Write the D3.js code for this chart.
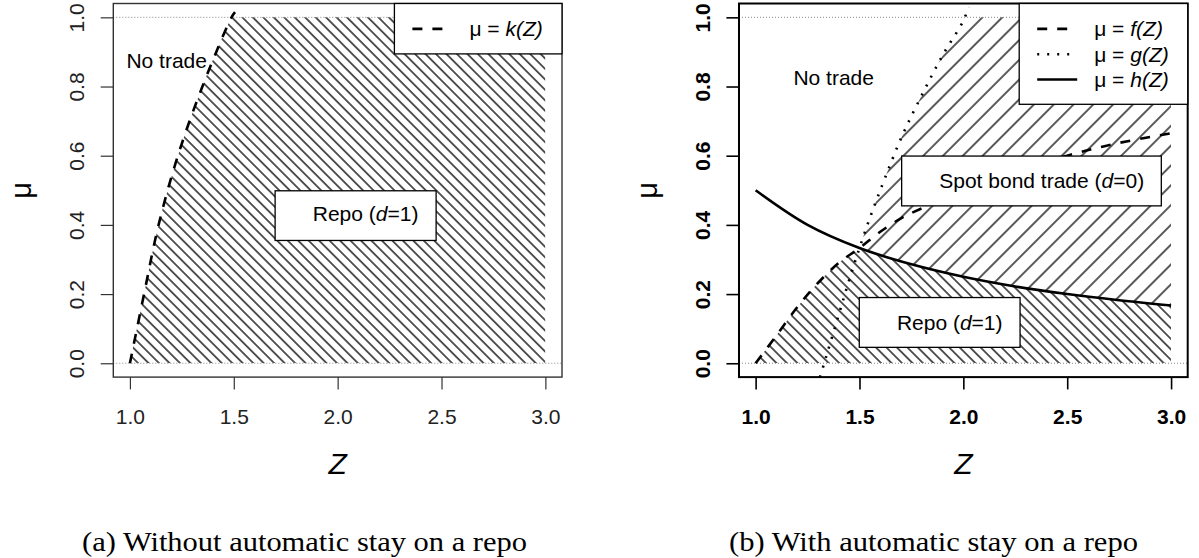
<!DOCTYPE html>
<html><head><meta charset="utf-8">
<script src="https://cdn.jsdelivr.net/npm/d3@7"></script>
<style>body{margin:0;background:#fff} svg{display:block}</style>
</head><body><svg id="c" width="1199" height="558"></svg>
<script>
// ---- data ----
const xTicks = [1.0, 1.5, 2.0, 2.5, 3.0];
const yTicks = [0.0, 0.2, 0.4, 0.6, 0.8, 1.0];
// panel (a): mu = k(Z)
const kZ  = [1.0, 1.068, 1.138, 1.231, 1.349, 1.489, 1.506];
const kMu = [0.0, 0.2,   0.4,   0.6,   0.8,   1.0,   1.015];
// panel (b): mu = f(Z)
const fZ  = [1.0, 1.1,  1.2,   1.3,   1.4,  1.5,   1.6,  1.7,   1.8,   2.0,  2.2,  2.5,  2.75,  3.0];
const fMu = [0.0, 0.08, 0.162, 0.232, 0.29, 0.333, 0.38, 0.419, 0.448, 0.50, 0.54, 0.60, 0.637, 0.665];
// mu = g(Z)
const gZ  = [1.31, 1.33, 1.40, 1.45, 1.50,  1.55, 1.60, 1.70, 1.80,  1.90, 2.00, 2.025];
const gMu = [-0.04, 0.0, 0.14, 0.24, 0.333, 0.42, 0.50, 0.65, 0.775, 0.89, 0.99, 1.03];
// mu = h(Z)
const hZ  = [1.0, 1.25, 1.5,   1.75,  2.0,  2.25,  2.5, 2.75,  3.0];
const hMu = [0.5, 0.4,  0.333, 0.286, 0.25, 0.222, 0.2, 0.182, 0.167];
const captions = ["(a) Without automatic stay on a repo", "(b) With automatic stay on a repo"];

const SANS = "'Liberation Sans', Arial, Helvetica, sans-serif";
const svg = d3.select("#c");
const defs = svg.append("defs");

function hatch(id, spacing, angle) {
  const p = defs.append("pattern").attr("id", id).attr("patternUnits", "userSpaceOnUse")
    .attr("width", spacing).attr("height", spacing)
    .attr("patternTransform", `rotate(${angle})`);
  p.append("line").attr("x1", spacing / 2).attr("x2", spacing / 2).attr("y1", -1).attr("y2", spacing + 1)
    .attr("stroke", "#000").attr("stroke-width", 1.3);
}
hatch("hBack", 7.4, -45);
hatch("hFwd", 14, 45);

const zip = (a, b) => a.map((v, i) => [v, b[i]]);
const kPts = zip(kZ, kMu), fPts = zip(fZ, fMu), gPts = zip(gZ, gMu), hPts = zip(hZ, hMu);

function makePanel(o) {
  const x = d3.scaleLinear().domain([0.92, 3.08]).range([o.x0, o.x1]);
  const y = d3.scaleLinear().domain([-0.04, 1.04]).range([377.1, 3.5]);
  const g = svg.append("g");
  const cid = o.id + "clip";
  defs.append("clipPath").attr("id", cid).append("rect")
    .attr("x", o.x0).attr("y", y(1.04)).attr("width", o.x1 - o.x0).attr("height", y(-0.04) - y(1.04));
  const hid = o.id + "hclip";
  defs.append("clipPath").attr("id", hid).append("rect")
    .attr("x", x(xTicks[0])).attr("y", y(1)).attr("width", x(xTicks[xTicks.length - 1]) - x(xTicks[0]))
    .attr("height", y(0) - y(1));
  const plot = g.append("g").attr("clip-path", `url(#${cid})`);
  const hatchG = plot.append("g").attr("clip-path", `url(#${hid})`);
  const line = d3.line().x(d => x(d[0])).y(d => y(d[1])).curve(d3.curveCatmullRom.alpha(0.5));

  // dotted reference lines at 0 and 1
  [0, 1].forEach(v => plot.append("line").attr("x1", o.x0).attr("x2", o.x1).attr("y1", y(v)).attr("y2", y(v))
    .attr("stroke", "#888").attr("stroke-width", 1).attr("stroke-dasharray", "1,2"));

  // axes
  const ax = g.append("g").attr("transform", `translate(0,${y(-0.04)})`)
    .call(d3.axisBottom(x).tickValues(xTicks).tickFormat(d3.format(".1f")).tickSize(12.3).tickSizeOuter(0));
  ax.select(".domain").remove();
  ax.selectAll("line").attr("stroke", o.axisColor).attr("stroke-width", o.tickW);
  ax.selectAll("text").attr("y", 31.5).attr("dy", "0.71em").attr("font-size", 21)
    .attr("font-family", SANS).attr("font-weight", o.bold ? "bold" : "normal").attr("fill", o.textColor);

  const ay = g.append("g").attr("transform", `translate(${o.x0},0)`)
    .call(d3.axisLeft(y).tickValues(yTicks).tickFormat(d3.format(".1f")).tickSize(12.6).tickSizeOuter(0));
  ay.select(".domain").remove();
  ay.selectAll("line").attr("stroke", o.axisColor).attr("stroke-width", o.tickW);
  ay.selectAll("text").attr("transform", "rotate(-90)").attr("x", 0).attr("y", -36.6).attr("dy", "0.36em")
    .attr("text-anchor", "middle").attr("font-size", 21).attr("font-family", SANS)
    .attr("font-weight", o.bold ? "bold" : "normal").attr("fill", o.textColor);

  // box
  g.append("rect").attr("x", o.x0).attr("y", y(1.04)).attr("width", o.x1 - o.x0).attr("height", y(-0.04) - y(1.04))
    .attr("fill", "none").attr("stroke", o.axisColor).attr("stroke-width", o.boxW);

  // axis titles
  g.append("text").attr("x", (x(1) + x(3)) / 2).attr("y", 474).attr("text-anchor", "middle")
    .attr("font-family", SANS).attr("font-size", 30).attr("font-style", "italic").text("Z");
  g.append("text").attr("transform", `translate(${o.x0 - 82},${(y(0) + y(1)) / 2}) rotate(-90)`)
    .attr("text-anchor", "middle").attr("font-family", SANS).attr("font-size", 29).text("μ");

  return { x, y, g, plot, hatchG, line };
}

function labelBox(P, z0, z1, m0, m1, tz, tm, parts) {
  P.g.append("rect").attr("x", P.x(z0)).attr("y", P.y(m1)).attr("width", P.x(z1) - P.x(z0))
    .attr("height", P.y(m0) - P.y(m1)).attr("fill", "#fff").attr("stroke", "#000").attr("stroke-width", 1.3);
  plainText(P, tz, tm, parts);
}
function plainText(P, tz, tm, parts) {
  const t = P.g.append("text").attr("x", P.x(tz)).attr("y", P.y(tm)).attr("dy", "0.34em")
    .attr("font-family", SANS).attr("font-size", 21).attr("fill", "#000");
  parts.forEach(p => t.append("tspan").attr("font-style", p[1] ? "italic" : "normal").text(p[0]));
}
function legend(P, x0, x1, y0, rows) {
  const h = 25.2 * (rows.length + 1);
  P.g.append("rect").attr("x", x0).attr("y", y0).attr("width", x1 - x0).attr("height", h)
    .attr("fill", "#fff").attr("stroke", "#000").attr("stroke-width", 1.3);
  rows.forEach((r, i) => {
    const cy = y0 + 25.4 + i * 25.3;
    P.g.append("line").attr("x1", x0 + 18).attr("x2", x0 + 58).attr("y1", cy).attr("y2", cy)
      .attr("stroke", "#000").attr("stroke-width", 2.6).attr("stroke-dasharray", r.dash);
    const t = P.g.append("text").attr("x", x0 + 75).attr("y", cy).attr("dy", "0.36em")
      .attr("font-family", SANS).attr("font-size", 21);
    t.append("tspan").text("μ = ");
    t.append("tspan").attr("font-style", "italic").text(r.name);
  });
}

// ---------- panel (a) ----------
const A = makePanel({ id: "a", x0: 113.3, x1: 562, axisColor: "#333", textColor: "#222", tickW: 1.2, boxW: 1.4, bold: false });
{
  const d = A.line(kPts) + `L${A.x(3)},${A.y(kMu[kMu.length - 1])}L${A.x(3)},${A.y(0)}Z`;
  A.hatchG.append("path").attr("d", d).attr("fill", "url(#hBack)");
  A.plot.append("path").attr("d", A.line(kPts)).attr("fill", "none").attr("stroke", "#000")
    .attr("stroke-width", 2.6).attr("stroke-dasharray", "10,10");
  plainText(A, 0.983, 0.873, [["No trade", false]]);
  labelBox(A, 1.699, 2.474, 0.355, 0.4986, 1.88, 0.431, [["Repo (", false], ["d", true], ["=1)", false]]);
  legend(A, 394.4, 562, 3.5, [{ name: "k(Z)", dash: "10,10" }]);
}

// ---------- panel (b) ----------
const B = makePanel({ id: "b", x0: 739, x1: 1187.7, axisColor: "#000", textColor: "#000", tickW: 1.6, boxW: 2, bold: true });
{
  const fLow = fPts.filter(p => p[0] <= 1.5);
  const hHigh = hPts.filter(p => p[0] >= 1.5);
  const gHigh = gPts.filter(p => p[0] >= 1.5);
  const repo = B.line(fLow) + B.line(hHigh).replace(/^M/, "L") + `L${B.x(3)},${B.y(0)}L${B.x(1)},${B.y(0)}Z`;
  B.hatchG.append("path").attr("d", repo).attr("fill", "url(#hBack)");
  const spot = B.line(gHigh) + `L${B.x(3)},${B.y(gMu[gMu.length - 1])}` +
    B.line(hHigh.slice().reverse()).replace(/^M/, "L") + "Z";
  B.hatchG.append("path").attr("d", spot).attr("fill", "url(#hFwd)");

  B.plot.append("path").attr("d", B.line(gPts)).attr("fill", "none").attr("stroke", "#000")
    .attr("stroke-width", 2.6).attr("stroke-dasharray", "2,8");
  B.plot.append("path").attr("d", B.line(fPts)).attr("fill", "none").attr("stroke", "#000")
    .attr("stroke-width", 2.6).attr("stroke-dasharray", "10,10");
  B.plot.append("path").attr("d", B.line(hPts)).attr("fill", "none").attr("stroke", "#000")
    .attr("stroke-width", 2.6);

  plainText(B, 1.182, 0.824, [["No trade", false]]);
  labelBox(B, 1.703, 2.953, 0.455, 0.599, 1.884, 0.527, [["Spot bond trade (", false], ["d", true], ["=0)", false]]);
  labelBox(B, 1.499, 2.273, 0.046, 0.19, 1.68, 0.1175, [["Repo (", false], ["d", true], ["=1)", false]]);
  legend(B, 1019.2, 1187.7, 3.5, [
    { name: "f(Z)", dash: "10,10" },
    { name: "g(Z)", dash: "2,8" },
    { name: "h(Z)", dash: null }
  ]);
}

// captions
[[304.5, 445], [933.5, 409]].forEach((c, i) => {
  svg.append("text").attr("x", c[0]).attr("y", 551).attr("text-anchor", "middle")
    .attr("font-family", "'Liberation Serif', 'DejaVu Serif', serif").attr("font-size", 27)
    .attr("textLength", c[1]).attr("lengthAdjust", "spacingAndGlyphs").text(captions[i]);
});
</script></body></html>
